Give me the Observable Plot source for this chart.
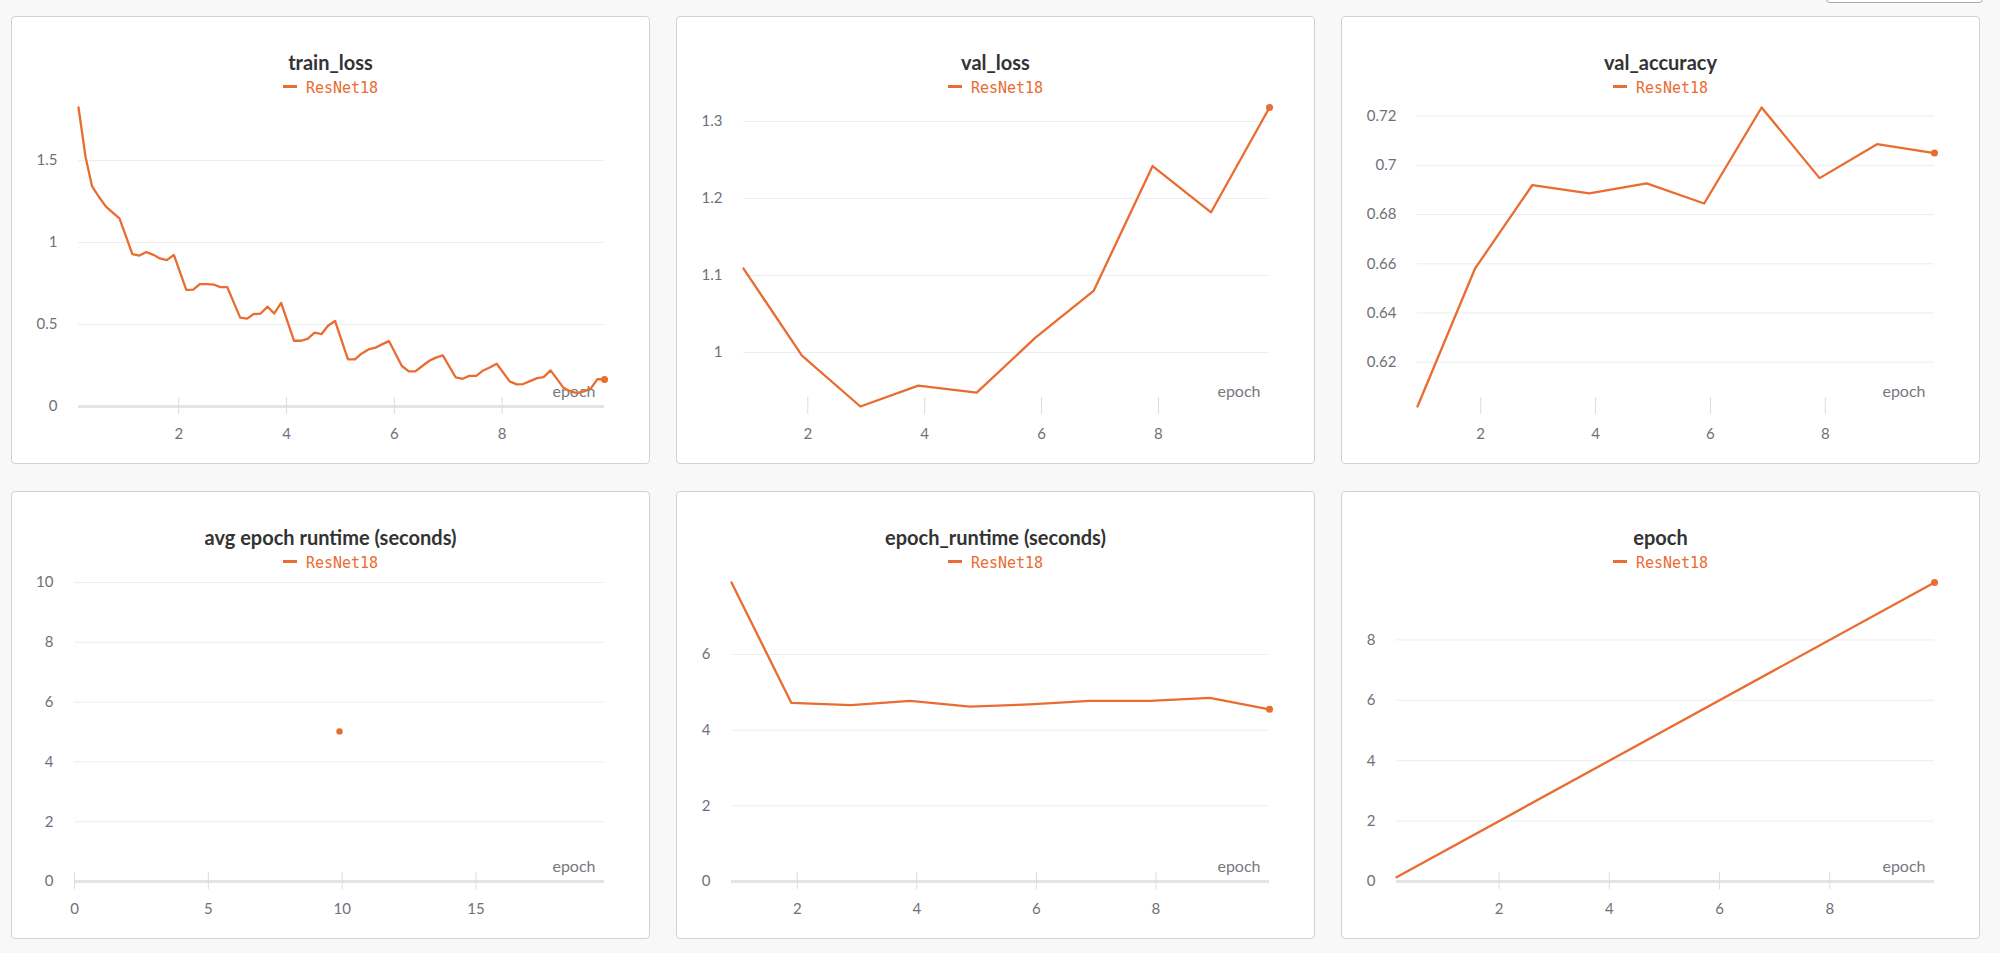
<!DOCTYPE html>
<html><head><meta charset="utf-8">
<script src="https://cdn.jsdelivr.net/npm/d3@7"></script>
<script src="https://cdn.jsdelivr.net/npm/@observablehq/plot@0.6"></script>
<style>
html,body{margin:0;padding:0;background:#f8f8f8;}
body{width:2000px;height:953px;position:relative;overflow:hidden;font-family:Lato,sans-serif;}
.panel{position:absolute;width:639px;height:448px;box-sizing:border-box;background:#fff;border:1px solid #d2d2d2;border-radius:4px;}
.title{position:absolute;left:0;right:0;top:31px;text-align:center;font-family:Lato,sans-serif;font-weight:700;font-size:20px;color:#333;line-height:28px;}
.legend{position:absolute;left:0;right:0;top:61px;text-align:center;font-family:"DejaVu Sans Mono",monospace;font-size:15px;color:#e96c30;line-height:20px;}
.legend .sw{display:inline-block;width:14px;height:3px;background:#e96c30;vertical-align:middle;margin-right:9px;position:relative;top:-2px;}
.chart{position:absolute;left:0;top:79px;}
.btn{position:absolute;left:1826px;top:-30px;width:157px;height:33px;box-sizing:border-box;border:1px solid #a9a9a9;border-radius:4px;background:#fff;}
</style>
</head><body>
<div class="btn"></div>
<div id="root"></div>
<script>
// ---- data ----
const runName = "ResNet18";
const trainEpoch = [
  0.14,0.27,0.39,0.52,0.65,0.77,0.90,
  1.14,1.27,1.40,1.53,1.65,1.78,1.91,
  2.14,2.27,2.39,2.52,2.65,2.77,2.90,
  3.14,3.27,3.39,3.52,3.65,3.77,3.90,
  4.14,4.27,4.39,4.52,4.65,4.77,4.90,
  5.14,5.27,5.39,5.52,5.65,5.77,5.90,
  6.14,6.27,6.39,6.52,6.65,6.77,6.90,
  7.14,7.27,7.39,7.52,7.65,7.77,7.90,
  8.14,8.27,8.39,8.52,8.65,8.77,8.90,
  9.14,9.27,9.39,9.52,9.65,9.77,9.90
];
const trainLoss = [
  1.824,1.524,1.345,1.278,1.219,1.184,1.147,
  0.929,0.921,0.942,0.925,0.903,0.893,0.925,
  0.711,0.713,0.746,0.746,0.744,0.728,0.728,
  0.542,0.536,0.564,0.567,0.609,0.567,0.632,
  0.401,0.401,0.412,0.450,0.442,0.493,0.522,
  0.287,0.287,0.322,0.348,0.359,0.379,0.399,
  0.247,0.214,0.214,0.247,0.279,0.298,0.312,
  0.177,0.169,0.187,0.187,0.220,0.238,0.261,
  0.153,0.135,0.137,0.155,0.173,0.179,0.220,
  0.114,0.092,0.082,0.092,0.112,0.167,0.165
];
const valEpoch = [0.90,1.90,2.90,3.89,4.89,5.89,6.89,7.90,8.90,9.90];
const valLoss = [1.109,0.996,0.930,0.957,0.948,1.019,1.080,1.242,1.182,1.318];
const valAccuracy = [0.602,0.658,0.692,0.6886,0.6927,0.6845,0.7235,0.6948,0.7086,0.705];
const epochRuntime = [7.90,4.72,4.66,4.77,4.62,4.68,4.77,4.77,4.85,4.55];
const avgEpochX = [9.9];
const avgEpochRuntime = [5.02];
const epochX = [0.14,9.90];
const epochY = [0.14,9.90];

const ticksEpoch = [2,4,6,8];
const ticksAvgX = [0,5,10,15];
const ticksTrainLoss = [0,0.5,1,1.5];
const ticksValLoss = [1,1.1,1.2,1.3];
const ticksValAcc = [0.62,0.64,0.66,0.68,0.7,0.72];
const ticksAvgY = [0,2,4,6,8,10];
const ticksRuntime = [0,2,4,6];
const ticksEpochY = [0,2,4,6,8];

const titles = ["train_loss","val_loss","val_accuracy","avg epoch runtime (seconds)","epoch_runtime (seconds)","epoch"];

// ---- drawing ----
const C = "#e96c30";
const fmt = d => `${d}`;

function chart({x, y, xTicks, yTicks, marginLeft, xDomain, yDomain, zero, line = true, dotR = 3.5}) {
  const data = x.map((v, i) => ({x: v, y: y[i]}));
  const marks = [
    Plot.gridY(yTicks, {stroke: "#ededed", strokeOpacity: 1}),
    zero ? Plot.ruleY([0], {stroke: "#e4e4e4", strokeWidth: 3}) : null,
    Plot.axisX(xTicks, {tickSize: 17, dy: -9, tickFormat: () => "", stroke: "#dcdcdc"}),
    Plot.axisX(xTicks, {tickSize: 0, tickPadding: 22, tickFormat: fmt, fill: "#70707a", fontSize: 15}),
    Plot.axisY(yTicks, {tickSize: 0, tickPadding: 21, tickFormat: fmt, fill: "#70707a", fontSize: 15}),
    Plot.text(["epoch"], {frameAnchor: "bottom-right", dx: -9, dy: -15, textAnchor: "end", lineAnchor: "middle", fontSize: 16, fill: "#78787f"}),
    line ? Plot.line(data, {x: "x", y: "y", stroke: C, strokeWidth: 2.3}) : null,
    Plot.dot([data[data.length - 1]], {x: "x", y: "y", r: dotR, fill: C, stroke: "none"})
  ];
  return Plot.plot({
    width: 637, height: 360,
    marginLeft, marginRight: 45, marginTop: 11, marginBottom: 50,
    style: {fontFamily: "Lato, sans-serif", fontSize: "15px", background: "transparent"},
    x: {domain: xDomain, label: null},
    y: {domain: yDomain, label: null},
    marks
  });
}

const specs = [
  {x: trainEpoch, y: trainLoss, xTicks: ticksEpoch, yTicks: ticksTrainLoss, marginLeft: 66, zero: true},
  {x: valEpoch, y: valLoss, xTicks: ticksEpoch, yTicks: ticksValLoss, marginLeft: 66, zero: false},
  {x: valEpoch, y: valAccuracy, xTicks: ticksEpoch, yTicks: ticksValAcc, marginLeft: 75, zero: false},
  {x: avgEpochX, y: avgEpochRuntime, xTicks: ticksAvgX, yTicks: ticksAvgY, marginLeft: 62, zero: true, xDomain: [0, 19.8], yDomain: [0, 10], line: false, dotR: 3.2},
  {x: valEpoch, y: epochRuntime, xTicks: ticksEpoch, yTicks: ticksRuntime, marginLeft: 54, zero: true},
  {x: epochX, y: epochY, xTicks: ticksEpoch, yTicks: ticksEpochY, marginLeft: 54, zero: true}
];

const lefts = [11, 676, 1341];
const tops = [16, 491];
const root = document.getElementById("root");
specs.forEach((s, i) => {
  const p = document.createElement("div");
  p.className = "panel";
  p.style.left = lefts[i % 3] + "px";
  p.style.top = tops[Math.floor(i / 3)] + "px";
  const t = document.createElement("div");
  t.className = "title";
  t.textContent = titles[i];
  const l = document.createElement("div");
  l.className = "legend";
  l.innerHTML = `<span class="sw"></span>${runName}`;
  const c = document.createElement("div");
  c.className = "chart";
  c.appendChild(chart(s));
  p.appendChild(t); p.appendChild(l); p.appendChild(c);
  root.appendChild(p);
});
</script>
</body></html>
